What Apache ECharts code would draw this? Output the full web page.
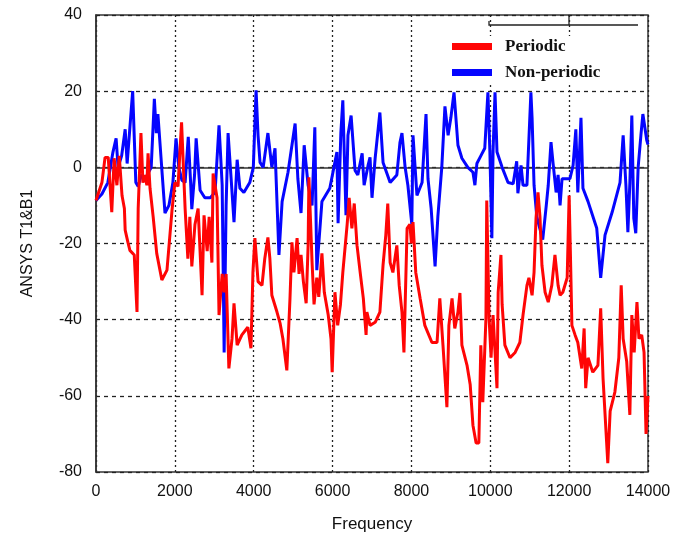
<!DOCTYPE html>
<html>
<head>
<meta charset="utf-8">
<script src="https://cdn.jsdelivr.net/npm/echarts@6/dist/echarts.min.js"></script>
<style>
  html, body { margin: 0; padding: 0; background: #fff; }
  #main { width: 692px; height: 539px; }
</style>
</head>
<body>
<div id="main"></div>
<script>
// x ticks / y ticks
const xTicks = [0, 2000, 4000, 6000, 8000, 10000, 12000, 14000];
const yTicks = [-80, -60, -40, -20, 0, 20, 40];

// Periodic (red)
const periodicFreq = [0, 150, 230, 310, 400, 460, 530, 590, 660, 720, 740, 810, 860, 970, 1040, 1070, 1140, 1190, 1240, 1290,
  1320, 1370, 1450, 1540, 1670, 1800, 1930, 2000, 2080, 2170, 2260, 2330, 2380, 2430, 2510, 2590, 2690, 2740, 2820, 2870,
  2940, 2970, 3070, 3120, 3200, 3250, 3300, 3370, 3450, 3500, 3580, 3700, 3850, 3930, 3980, 4030, 4110, 4210, 4280, 4360,
  4410, 4460, 4590, 4670, 4740, 4840, 4920, 4970, 5020, 5100, 5150, 5200, 5260, 5330, 5380, 5400, 5480, 5530, 5600, 5650,
  5730, 5790, 5890, 5960, 5990, 6060, 6130, 6200, 6260, 6370, 6420, 6490, 6550, 6620, 6700, 6780, 6850, 6870, 6950, 7080,
  7200, 7280, 7350, 7400, 7460, 7530, 7630, 7690, 7760, 7810, 7890, 7960, 8000, 8040, 8110, 8220, 8340, 8520, 8650, 8720,
  8800, 8900, 8950, 9030, 9100, 9180, 9230, 9280, 9410, 9490, 9560, 9640, 9710, 9760, 9810, 9890, 9910, 9970, 10020, 10070,
  10170, 10200, 10270, 10300, 10370, 10500, 10630, 10750, 10830, 10930, 10980, 11060, 11110, 11160, 11210, 11260, 11310, 11390, 11470, 11560,
  11640, 11720, 11770, 11840, 11950, 12000, 12040, 12070, 12150, 12220, 12320, 12380, 12420, 12480, 12600, 12730, 12800, 12860, 12980, 13040,
  13160, 13260, 13320, 13370, 13460, 13540, 13590, 13650, 13720, 13770, 13840, 13900, 13950, 14000];
const periodicVal = [-8.7, -4, 2.6, 2.6, -11.8, 2.4, -4.7, 3, -7.4, -10.8, -16.5, -19.7, -21.8, -23, -38, -10.8, 9, -4, -2, -4.7,
  3.7, -5.5, -13, -22.6, -29.6, -27, -11, -4, -5, 11.8, -10.8, -24, -13, -26, -15, -10.8, -33.6, -12.6, -22, -13,
  -25, -1.6, -8, -38.8, -28, -32.8, -28, -52.8, -45, -35.7, -46.7, -44, -42, -47.5, -27.6, -18.6, -30, -31, -24, -18.4,
  -24, -33.6, -38, -41, -45, -53.3, -34.4, -19.7, -27.6, -18.6, -28, -23, -30, -35.7, -20.5, -2.6, -25, -36, -29, -34,
  -22.6, -32.8, -38.8, -45, -53.8, -32.8, -41.5, -36, -27.6, -15, -8, -16, -9.5, -20.5, -27.6, -34.4, -44, -38, -41.5, -40.7,
  -38, -25.7, -17.8, -9.5, -25, -27.6, -20.5, -31, -38, -48.6, -16, -15, -20, -14.4, -27.6, -34.4, -41.5, -46, -46, -34.4,
  -46.7, -63, -41.5, -34.4, -42.3, -38, -33, -46.7, -52, -57, -67.7, -72.4, -72.4, -46.7, -61.7, -39.6, -8.7, -39.6, -50, -38.8,
  -58, -32.8, -23, -36, -46.7, -50, -48.6, -46, -38.8, -31, -29, -33.6, -27.6, -13.4, -6.6, -13, -25.7, -32.8, -35.4, -31,
  -23, -31, -33.6, -32.8, -29, -7.4, -26.5, -41.5, -44, -46, -52.8, -42.3, -58, -50, -53.8, -52, -37, -55.4, -77.7, -64,
  -59, -50, -31, -45, -51, -65, -38.8, -48.6, -35.4, -45, -44, -48.6, -70, -60];

// Non-periodic (blue)
const nonPeriodicFreq = [0, 150, 300, 430, 510, 560, 650, 740, 790, 930, 1010, 1070, 1150, 1250, 1400, 1480, 1530, 1570, 1680, 1750,
  1850, 1950, 2030, 2100, 2180, 2260, 2340, 2400, 2430, 2500, 2540, 2640, 2760, 2900, 3020, 3120, 3200, 3250, 3300, 3350,
  3450, 3500, 3580, 3650, 3750, 3900, 3990, 4060, 4110, 4160, 4240, 4360, 4460, 4540, 4640, 4720, 4870, 5050, 5120, 5200,
  5280, 5380, 5480, 5550, 5600, 5730, 5930, 6110, 6140, 6210, 6260, 6340, 6390, 6470, 6570, 6640, 6750, 6800, 6900, 6950,
  7000, 7080, 7200, 7280, 7460, 7630, 7710, 7760, 7840, 7910, 8010, 8040, 8140, 8270, 8370, 8420, 8500, 8600, 8670, 8770,
  8850, 8930, 9000, 9080, 9100, 9180, 9280, 9430, 9560, 9610, 9660, 9760, 9860, 9940, 9990, 10040, 10070, 10120, 10170, 10300,
  10450, 10580, 10670, 10700, 10780, 10830, 10930, 11030, 11060, 11110, 11180, 11330, 11420, 11470, 11540, 11590, 11670, 11720, 11770, 11820,
  12020, 12100, 12170, 12220, 12300, 12350, 12480, 12700, 12800, 12910, 13090, 13290, 13370, 13440, 13490, 13540, 13590, 13640, 13690, 13750,
  13820, 13870, 13970, 14000];
const nonPeriodicVal = [-8.7, -7, -4, 4, 7.6, 0, 3, 10, 1, 20, -4, -5, -2, -3, 0, 18, 9, 14, -2, -12,
  -10, -4, 7.6, 0, -3.4, -4, 8, -4, -11, -2, 7.6, -6, -8, -8, -6.5, 11, -4.7, -48.6, -10, 9,
  -6.5, -14.4, 2, -5.5, -6.6, -4, 0, 20.2, 8.4, 1.3, 0, 9, 0, 5, -23, -9, -1.3, 11.5, -3, -12,
  5.8, -4.7, -10, 10.5, -27, -9, -5.5, 4, -14.7, 9, 17.6, -12.6, 8.4, 13.6, -0.8, -2, 3.7, -4.7, 0.5, 2.6,
  -8, 2.4, 14.4, 1.3, -4, -2, 6.6, 9, 0, -4.7, -15, 8.4, -7.4, -4, 14, -3, -10.8, -26, -13, 0,
  16, 8.4, 13, 19.7, 20, 5.8, 2.4, 0, -1.3, -4.7, 1, 3, 5, 19.7, 4, -18.6, 4, 19.7, 4, 0,
  -4, -4.3, 1.6, -6.8, 0.5, -4.7, -4.7, 19.7, 13, -4.7, -13, -19, -10, -4.7, 6.6, 1.3, -6.6, -2, -10, -3,
  -3, 0.5, 10, -6.6, 13, -5.5, -9, -16, -29, -17.8, -11.8, -4, 8.4, -4.7, -17, -4, 13.6, -13.4, -17.3, 0,
  8.4, 14, 7, 6];

const zip = (xs, ys) => xs.map((x, i) => [x, ys[i]]);

const chart = echarts.init(document.getElementById('main'));
const tickFont = { color: '#111', fontSize: 16, fontFamily: 'Liberation Sans, Arial, sans-serif' };

const option = {
  backgroundColor: '#fff',
  animation: false,
  grid: {
    left: 96, right: 44, top: 15, bottom: 67,
    show: true, borderColor: '#333', borderWidth: 1.5, backgroundColor: 'transparent'
  },
  legend: {
    data: ['Periodic', 'Non-periodic'],
    orient: 'vertical',
    left: 452, top: 36,
    itemWidth: 40, itemHeight: 7, itemGap: 9,
    icon: 'rect',
    backgroundColor: '#fff',
    padding: [2, 4, 2, 0],
    textStyle: { color: '#111', fontSize: 17, fontWeight: 'bold', fontFamily: 'Liberation Serif, Times New Roman, serif', padding: [0, 0, 0, 8] }
  },
  xAxis: {
    type: 'value',
    min: xTicks[0], max: xTicks[xTicks.length - 1], interval: 2000,
    name: 'Frequency', nameLocation: 'middle', nameGap: 44,
    nameTextStyle: { color: '#111', fontSize: 17, fontFamily: 'Liberation Sans, Arial, sans-serif' },
    axisLine: { show: true, lineStyle: { color: '#333', width: 1.5 } },
    axisTick: { show: false },
    axisLabel: Object.assign({ margin: 12, formatter: (v) => String(v) }, tickFont),
    splitLine: { show: true, lineStyle: { color: '#222', width: 1.3, type: [2, 3] } }
  },
  yAxis: {
    type: 'value',
    min: yTicks[0], max: yTicks[yTicks.length - 1], interval: 20,
    name: 'ANSYS T1&B1', nameLocation: 'middle', nameGap: 60, nameRotate: 90,
    nameTextStyle: { color: '#111', fontSize: 16, fontFamily: 'Liberation Sans, Arial, sans-serif' },
    axisLine: { show: true, lineStyle: { color: '#333', width: 1.5 } },
    axisTick: { show: false },
    axisLabel: Object.assign({ margin: 14, formatter: (v) => String(v) }, tickFont),
    splitLine: { show: true, lineStyle: { color: '#222', width: 1.3, type: [4, 4] } }
  },
  graphic: [
    { type: 'polyline', shape: { points: [[489, 21], [489, 25], [638, 25]] }, style: { stroke: '#222', lineWidth: 1.3, fill: null }, z: 100 },
    { type: 'line', shape: { x1: 569, y1: 16, x2: 569, y2: 25 }, style: { stroke: '#222', lineWidth: 1.3 }, z: 100 }
  ],
  series: [
    {
      name: 'Non-periodic', type: 'line', data: zip(nonPeriodicFreq, nonPeriodicVal),
      showSymbol: false, symbol: 'none', color: '#0505ff',
      lineStyle: { width: 3, color: '#0505ff' }, z: 3
    },
    {
      name: 'Periodic', type: 'line', data: zip(periodicFreq, periodicVal),
      showSymbol: false, symbol: 'none', color: '#ff0505',
      lineStyle: { width: 3, color: '#ff0505' }, z: 4
    }
  ]
};

chart.setOption(option);
</script>
</body>
</html>
